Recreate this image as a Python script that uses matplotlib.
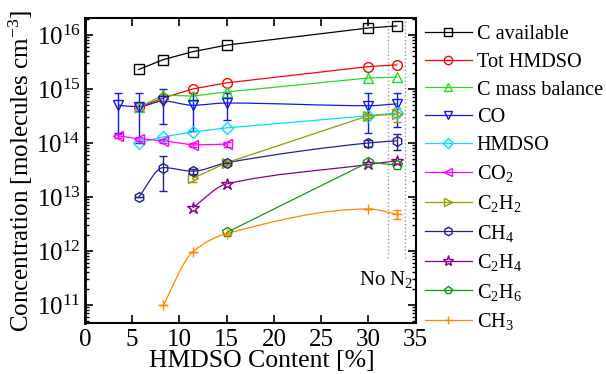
import numpy as np
import matplotlib
matplotlib.use("Agg")
import matplotlib.pyplot as plt
from matplotlib.path import Path
from matplotlib.patches import PathPatch
from matplotlib.lines import Line2D

plt.rcParams['font.family'] = ['Liberation Serif', 'DejaVu Serif']
plt.rcParams['mathtext.fontset'] = 'custom'
plt.rcParams['mathtext.rm'] = 'Liberation Serif'
plt.rcParams['mathtext.it'] = 'Liberation Serif:italic'

# HMDSO content [%]
x_all = [5.7, 8.3, 11.4, 15, 30, 33]
co_x = [3.5, 5.7, 8.3, 11.4, 15, 30, 33]
co2_x = [3.5, 5.7, 8.3, 11.4, 15]
c2h2_x = [11.4, 15, 30, 33]
c2h4_x = [11.4, 15, 30, 33]
c2h6_x = [15, 30, 33]
ch3_x = [8.3, 11.4, 15, 30, 33]

# concentrations [molecules cm-3]
c_avail = [2.3e15, 3.5e15, 4.9e15, 6.5e15, 1.35e16, 1.47e16]
tot_hmdso = [4.6e14, 6.8e14, 1.0e15, 1.3e15, 2.6e15, 2.8e15]
c_mass = [4.6e14, 7.7e14, 7.4e14, 8.8e14, 1.6e15, 1.65e15]
co = [5.0e14, 4.7e14, 6.0e14, 5.0e14, 5.5e14, 4.9e14, 5.3e14]
co_err = [3.5e14, 3.7e14, 3.8e14, 3.3e14, 2.8e14, 3.4e14, 3.3e14]
hmdso = [1.0e14, 1.3e14, 1.6e14, 1.9e14, 3.2e14, 3.6e14]
co2 = [1.35e14, 1.2e14, 1.1e14, 9.2e13, 9.5e13]
co2_err = [1.2e13, 1.0e13, 1.0e13, 9e12, 9e12]
c2h2 = [2.2e13, 4.3e13, 3.2e14, 3.4e14]
c2h2_err = [3e12, 4e12, 3e13, 1e14]
ch4 = [1.0e13, 3.5e13, 3.0e13, 4.3e13, 1.0e14, 1.1e14]
ch4_err = [0, 2.2e13, 3e12, 0, 1.5e13, 3.5e13]
c2h4 = [6.3e12, 1.75e13, 4.0e13, 4.7e13]
c2h6 = [2.2e12, 4.4e13, 3.9e13]
ch3 = [1.0e11, 9.6e11, 2.1e12, 6.0e12, 4.8e12]
ch3_err = [0, 0, 0, 0, 9e11]

no_n2_lines = [32.1, 33.9]


def smooth_path(xs, ys):
    # monotone cubic through the points, drawn as bezier in (x, log y)
    px = np.array(xs, float)
    py = np.log10(np.array(ys, float))
    n = len(px)
    d = np.diff(py) / np.diff(px)
    m = np.zeros(n)
    m[0], m[-1] = d[0], d[-1]
    for i in range(1, n - 1):
        if d[i - 1] * d[i] > 0:
            m[i] = 2 / (1 / d[i - 1] + 1 / d[i])
    verts = [(px[0], py[0])]
    codes = [Path.MOVETO]
    for i in range(n - 1):
        h = px[i + 1] - px[i]
        verts += [(px[i] + h / 3, py[i] + m[i] * h / 3),
                  (px[i + 1] - h / 3, py[i + 1] - m[i + 1] * h / 3),
                  (px[i + 1], py[i + 1])]
        codes += [Path.CURVE4] * 3
    verts = [(a, 10 ** b) for a, b in verts]
    return Path(verts, codes)


fig = plt.figure(figsize=(6.06, 3.74), dpi=100)
ax = fig.add_axes([0.140, 0.136, 0.546, 0.816])
ax.set_yscale('log')

series = [
    ('C available', x_all, c_avail, None, 'k', 's', False),
    ('Tot HMDSO', x_all, tot_hmdso, None, '#ff0000', 'o', False),
    ('C mass balance', x_all, c_mass, None, '#22dd22', '^', False),
    ('CO', co_x, co, co_err, '#1515ee', 'v', True),
    ('HMDSO', x_all, hmdso, None, '#00e0ff', 'D', False),
    ('CO$_2$', co2_x, co2, co2_err, '#ff00ff', '<', False),
    ('C$_2$H$_2$', c2h2_x, c2h2, c2h2_err, '#999900', '>', False),
    ('CH$_4$', x_all, ch4, ch4_err, '#202090', 'h', True),
    ('C$_2$H$_4$', c2h4_x, c2h4, None, '#880088', '*', True),
    ('C$_2$H$_6$', c2h6_x, c2h6, None, '#119911', 'p', False),
    ('CH$_3$', ch3_x, ch3, ch3_err, '#ff8800', '+', True),
]

handles = []
for label, xs, ys, err, col, mk, curved in series:
    ms = 7
    if mk == 'D':
        ms = 6
    if mk == '*':
        ms = 9
    if curved:
        ax.add_patch(PathPatch(smooth_path(xs, ys), fc='none', ec=col, lw=0.9))
    else:
        ax.plot(xs, ys, '-', color=col, lw=0.9)
    ax.errorbar(xs, ys, yerr=err, fmt=mk, color=col, mfc='none', mec=col,
                ms=ms, mew=1.0, elinewidth=1.0, capsize=3, ecolor=col)
    handles.append(Line2D([], [], color=col, lw=0.9, marker=mk, mfc='none',
                          mec=col, ms=ms - 1, mew=1.0, label=label))

for xv in no_n2_lines:
    ax.plot([xv, xv], [7.4e11, 2e16], ls=':', color='#999999', lw=1.0)
ax.text(34.8, 3.0e11, 'No N$_2$', ha='right', va='center', fontsize=15)

ax.set_xlim(0, 35)
ax.set_ylim(4.6e10, 2.07e16)
ax.set_xticks([0, 5, 10, 15, 20, 25, 30, 35])
ax.tick_params(which='both', direction='in', top=True, right=True, labelsize=18)
ax.tick_params(which='major', length=6, width=1.2)
ax.tick_params(which='minor', length=3, width=1.0)
ax.tick_params(axis='x', which='minor', top=False, bottom=False)
ax.tick_params(axis='x', pad=4)
ax.tick_params(axis='y', pad=3)
for s in ax.spines.values():
    s.set_linewidth(1.5)
ax.spines['left'].set_linewidth(2)

ax.set_xlabel('HMDSO Content [%]', fontsize=18.5)
ax.xaxis.set_label_coords(0.535, -0.088)
ax.set_ylabel('Concentration [molecules cm$^{-3}$]', fontsize=18, labelpad=1)

fig.legend(handles=handles, loc='upper left', bbox_to_anchor=(0.688, 0.955),
           frameon=False, fontsize=14.6, handlelength=2.3, handletextpad=0.25,
           labelspacing=0.42, borderaxespad=0)

fig.savefig('out.png', dpi=100)
